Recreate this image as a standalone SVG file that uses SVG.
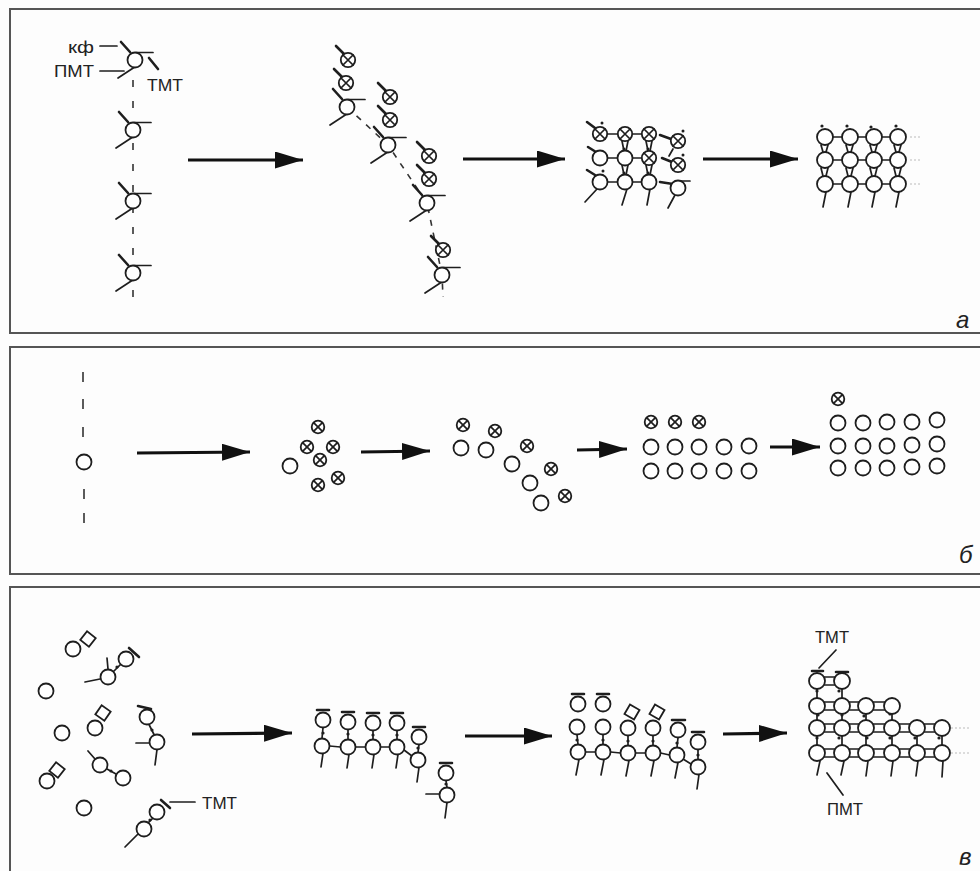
<svg xmlns="http://www.w3.org/2000/svg" width="980" height="871" viewBox="0 0 980 871">
<style>
.bg{fill:#fdfdfd}
.pn{fill:none;stroke:#555;stroke-width:2}
.c{fill:#fff;stroke:#1e1e1e;stroke-width:1.8}
.s{fill:none;stroke:#1e1e1e;stroke-width:1.7;stroke-linecap:round}
.k{fill:none;stroke:#1e1e1e;stroke-width:2.6;stroke-linecap:round}
.d{fill:none;stroke:#333;stroke-width:1.6}
.f{fill:none;stroke:#bbb;stroke-width:1;stroke-dasharray:2 2}
.sq{fill:#fff;stroke:#1e1e1e;stroke-width:1.8}
.dot{fill:#1e1e1e}
.ar{fill:none;stroke:#111;stroke-width:3.2;marker-end:url(#ah)}
.t{font-family:"Liberation Sans",Arial,sans-serif;font-size:16px;fill:#222}
.lab{font-family:"Liberation Sans",Arial,sans-serif;font-size:24px;font-style:italic;fill:#222}
</style>
<defs>
<marker id="ah" markerUnits="userSpaceOnUse" markerWidth="30" markerHeight="18" refX="28" refY="8.5" orient="auto">
<path d="M0,0 L28,8.5 L0,17 Z" fill="#111"/>
</marker>
<circle id="o" r="7.5" class="c"/>
<circle id="O" r="8" class="c"/>
<g id="x"><circle r="7.2" class="c"/><path d="M-5,-5 L5,5 M-5,5 L5,-5" class="s" stroke-width="1.4"/></g>
<g id="xs"><circle r="6.3" class="c"/><path d="M-4.4,-4.4 L4.4,4.4 M-4.4,4.4 L4.4,-4.4" class="s" stroke-width="1.4"/></g>
<g id="nd"><path d="M-14,-18 L-5,-8" class="k"/><path d="M1,-7.5 H18 M-1,7.5 L-17,18" class="s"/><circle r="7.5" class="c"/></g>
<g id="xk"><path d="M-12,-14 L-4,-6" class="k"/><use href="#x"/></g>
<rect id="sqr" x="-5.5" y="-5.5" width="11" height="11" class="sq"/>
</defs>

<rect class="bg" x="0" y="0" width="980" height="871"/>

<!-- frames -->
<g id="frames">
<rect class="pn" x="10" y="9" width="985" height="324"/>
<rect class="pn" x="10" y="347" width="985" height="227"/>
<rect class="pn" x="10" y="587" width="985" height="300"/>
</g>

<!-- transition arrows -->
<g id="connectors">
<line class="ar" x1="188" y1="160" x2="303" y2="160"/>
<line class="ar" x1="463" y1="159" x2="565" y2="159"/>
<line class="ar" x1="703" y1="159" x2="798" y2="159"/>
<line class="ar" x1="137" y1="453" x2="250" y2="452"/>
<line class="ar" x1="361" y1="452" x2="430" y2="451"/>
<line class="ar" x1="577" y1="450" x2="627" y2="449"/>
<line class="ar" x1="770" y1="447" x2="820" y2="447"/>
<line class="ar" x1="192" y1="734" x2="292" y2="733"/>
<line class="ar" x1="465" y1="736" x2="552" y2="736"/>
<line class="ar" x1="723" y1="734" x2="787" y2="733"/>
</g>

<!-- panel a, stage 1: single column -->
<g id="a-column">
<path d="M133,80 V302" class="d" stroke-dasharray="7 14"/>
<use href="#nd" x="135" y="60"/>
<use href="#nd" x="133" y="130"/>
<use href="#nd" x="133" y="201"/>
<use href="#nd" x="133" y="273"/>
<path d="M149,58 L158,69" class="k" stroke-width="2"/>
<path d="M100,46 H117 M100,71 H124" class="s" stroke-width="2"/>
<text class="t" x="68" y="53" textLength="26" lengthAdjust="spacingAndGlyphs">кф</text>
<text class="t" x="54" y="77" textLength="40" lengthAdjust="spacingAndGlyphs">ПМТ</text>
<text class="t" x="147" y="91" textLength="36" lengthAdjust="spacingAndGlyphs">ТМТ</text>
</g>

<!-- panel a, stage 2: nucleation on each node -->
<g id="a-nucleation">
<path d="M347,107 L388,145 L427,203 L442,275 L443,297" class="d" stroke-dasharray="6 7"/>
<use href="#nd" x="347" y="107"/>
<use href="#xk" x="348" y="60"/>
<use href="#xk" x="346" y="83"/>
<use href="#nd" x="388" y="145"/>
<use href="#xk" x="390" y="97"/>
<use href="#xk" x="390" y="120"/>
<use href="#nd" x="427" y="203"/>
<use href="#xk" x="429" y="156"/>
<use href="#xk" x="429" y="179"/>
<use href="#nd" x="442" y="275"/>
<use href="#xk" x="443" y="250"/>
</g>

<!-- panel a, stage 3: partial lattice -->
<g id="a-partial">
<path d="M607.5,134 H617.5 M632.5,134 H641.5 M607.5,158 H617.5 M632.5,158 H641.5 M607.5,182 H617.5 M632.5,182 H641.5" class="s"/>
<path d="M622,141 L624,151 M628,141 L626,151 M622,165 L624,175 M628,165 L626,175 M646,141 L648,151 M652,141 L650,151 M646,165 L648,175 M652,165 L650,175" class="s" stroke-width="1.3"/>
<circle class="dot" cx="624" cy="149" r="1.5"/><circle class="dot" cx="624" cy="173" r="1.5"/>
<circle class="dot" cx="648" cy="149" r="1.5"/><circle class="dot" cx="648" cy="173" r="1.5"/>
<path d="M587,122 L595,128 M588,147 L596,152 M587,170 L595,175 M660,135 L671,139 M662,158 L672,162 M660,182 L673,184" class="k"/>
<path d="M673,149 L669,156 M680,181 H690 M597,189 L585,202 M627,189 L622,205 M650,189 L647,205 M675,195 L668,208" class="s"/>
<circle class="dot" cx="602" cy="123" r="1.5"/><circle class="dot" cx="603" cy="171" r="1.5"/>
<circle class="dot" cx="683" cy="131" r="1.5"/><circle class="dot" cx="683" cy="155" r="1.5"/>
<use href="#x" x="600" y="134"/>
<use href="#x" x="625" y="134"/>
<use href="#x" x="649" y="134"/>
<use href="#x" x="678" y="141"/>
<use href="#o" x="600" y="158"/>
<use href="#o" x="625" y="158"/>
<use href="#x" x="649" y="158"/>
<use href="#x" x="678" y="165"/>
<use href="#o" x="600" y="182"/>
<use href="#o" x="625" y="182"/>
<use href="#o" x="649" y="182"/>
<use href="#o" x="678" y="188"/>
</g>

<!-- panel a, stage 4: complete lattice -->
<g id="a-lattice">
<path d="M833,137 H842 M858,137 H866 M882,137 H890 M833,160 H842 M858,160 H866 M882,160 H890 M833,184 H842 M858,184 H866 M882,184 H890" class="s"/>
<path d="M821,145 L823,152 M828,145 L826,152 M846,145 L848,152 M853,145 L851,152 M870,145 L872,152 M877,145 L875,152 M894,145 L896,152 M901,145 L899,152 M821,168 L823,176 M828,168 L826,176 M846,168 L848,176 M853,168 L851,176 M870,168 L872,176 M877,168 L875,176 M894,168 L896,176 M901,168 L899,176" class="s" stroke-width="1.2"/>
<path d="M826,192 L823,207 M851,192 L848,207 M875,192 L872,207 M899,192 L896,207" class="s"/>
<circle class="dot" cx="822" cy="126" r="1.6"/><circle class="dot" cx="847" cy="126" r="1.6"/>
<circle class="dot" cx="871" cy="127" r="1.6"/><circle class="dot" cx="896" cy="126" r="1.6"/>
<path d="M910,137 H922 M910,160 H922 M910,184 H922" class="f"/>
<use href="#O" x="825" y="137"/><use href="#O" x="850" y="137"/><use href="#O" x="874" y="137"/><use href="#O" x="898" y="137"/>
<use href="#O" x="825" y="160"/><use href="#O" x="850" y="160"/><use href="#O" x="874" y="160"/><use href="#O" x="898" y="160"/>
<use href="#O" x="825" y="184"/><use href="#O" x="850" y="184"/><use href="#O" x="874" y="184"/><use href="#O" x="898" y="184"/>
</g>
<text class="lab" x="956" y="328">а</text>

<!-- panel б -->
<g id="b-column">
<path d="M83,372 v10 M83,399 v10 M83,427 v10 M84,489 v10 M84,513 v10" class="d" stroke-width="1.5"/>
<use href="#o" x="84" y="462"/>
</g>
<g id="b-cluster">
<use href="#xs" x="318" y="427"/>
<use href="#xs" x="307" y="447"/>
<use href="#xs" x="333" y="447"/>
<use href="#xs" x="320" y="460"/>
<use href="#xs" x="338" y="478"/>
<use href="#xs" x="318" y="485"/>
<use href="#o" x="290" y="466"/>
</g>
<g id="b-row">
<use href="#xs" x="463" y="425"/>
<use href="#o" x="461" y="448"/>
<use href="#xs" x="495" y="431"/>
<use href="#o" x="486" y="450"/>
<use href="#xs" x="527" y="446"/>
<use href="#o" x="512" y="464"/>
<use href="#xs" x="551" y="469"/>
<use href="#o" x="530" y="483"/>
<use href="#xs" x="565" y="496"/>
<use href="#o" x="541" y="503"/>
</g>
<g id="b-block">
<use href="#xs" x="651" y="422"/><use href="#xs" x="675" y="422"/><use href="#xs" x="699" y="422"/>
<use href="#o" x="651" y="447"/><use href="#o" x="675" y="447"/><use href="#o" x="699" y="447"/><use href="#o" x="724" y="447"/><use href="#o" x="749" y="446"/>
<use href="#o" x="651" y="471"/><use href="#o" x="675" y="471"/><use href="#o" x="699" y="471"/><use href="#o" x="724" y="471"/><use href="#o" x="749" y="471"/>
</g>
<g id="b-final">
<use href="#xs" x="838" y="399"/>
<use href="#o" x="838" y="423"/><use href="#o" x="863" y="423"/><use href="#o" x="887" y="422"/><use href="#o" x="912" y="422"/><use href="#o" x="937" y="420"/>
<use href="#o" x="838" y="446"/><use href="#o" x="863" y="446"/><use href="#o" x="887" y="446"/><use href="#o" x="912" y="445"/><use href="#o" x="937" y="444"/>
<use href="#o" x="838" y="468"/><use href="#o" x="863" y="468"/><use href="#o" x="887" y="468"/><use href="#o" x="912" y="467"/><use href="#o" x="937" y="466"/>
</g>
<text class="lab" x="959" y="563">б</text>

<!-- panel в, stage 1: scattered units -->
<g id="v-pairs">
<use href="#sqr" transform="translate(88,639) rotate(38)"/>
<use href="#o" x="73" y="649"/>
<use href="#sqr" transform="translate(103,713) rotate(35)"/>
<use href="#o" x="95" y="728"/>
<use href="#sqr" transform="translate(57,770) rotate(38)"/>
<use href="#o" x="47" y="781"/>
<use href="#o" x="46" y="691"/>
<use href="#o" x="62" y="733"/>
<use href="#o" x="84" y="808"/>
</g>
<g id="v-chainA">
<path d="M85,682 L100,679 M107,658 L108,669 M113.5,671.5 L120.5,664.5" class="s"/>
<path d="M129,648 L139,657" class="k"/>
<circle class="dot" cx="117" cy="667" r="1.6"/>
<use href="#o" x="108" y="677"/>
<use href="#o" x="126" y="659"/>
</g>
<g id="v-chainB">
<path d="M138,706 L151,709" class="k"/>
<path d="M149,724.5 L154,734.5 M136,743 H149.5 M157,749.5 L155,765" class="s"/>
<circle class="dot" cx="152" cy="730" r="1.6"/>
<use href="#o" x="147" y="717"/>
<use href="#o" x="157" y="742"/>
</g>
<g id="v-chainC">
<path d="M88,751 L95,759 M107,769 L116,774" class="s"/>
<circle class="dot" cx="111" cy="771" r="1.6"/>
<use href="#o" x="100" y="765"/>
<use href="#o" x="123" y="778"/>
</g>
<g id="v-chainD">
<path d="M125,847 L138,834 M148,823 L153,818" class="s"/>
<path d="M161,800 L170,808" class="k"/>
<circle class="dot" cx="150" cy="820" r="1.6"/>
<use href="#o" x="144" y="829"/>
<use href="#o" x="157" y="812"/>
<path d="M170,802 H195" class="s" stroke-width="2"/>
<text class="t" x="202" y="809" textLength="35" lengthAdjust="spacingAndGlyphs">ТМТ</text>
</g>

<!-- panel в, stage 2: first row -->
<g id="v-row">
<path d="M317,710 H329 M342,712 H354 M367,713 H379 M391,713 H403 M413,727 H425 M440,763 H452" class="k"/>
<path d="M323,727.5 L322,738.5 M348,729.5 L348,739.5 M373,730.5 L373,739.5 M397,730.5 L397,739.5 M419,744.5 L418,752.5 M446,780.5 L447,787.5" class="s"/>
<circle class="dot" cx="323" cy="733" r="1.6"/><circle class="dot" cx="348" cy="734" r="1.6"/><circle class="dot" cx="373" cy="735" r="1.6"/><circle class="dot" cx="397" cy="735" r="1.6"/><circle class="dot" cx="418" cy="748" r="1.6"/><circle class="dot" cx="446" cy="784" r="1.6"/>
<path d="M329.5,746 L340.5,747 M355.5,747 L365.5,747 M380.5,747 L389.5,747 M404,750 L412,756" class="s"/>
<path d="M323,753.5 L321,767 M349,754.5 L347,768 M374,754.5 L372,768 M398,754.5 L396,768 M419,767.5 L417,782 M426,794 H439.5 M447,802.5 L445,818" class="s"/>
<use href="#o" x="323" y="720"/><use href="#o" x="348" y="722"/><use href="#o" x="373" y="723"/><use href="#o" x="397" y="723"/><use href="#o" x="419" y="737"/><use href="#o" x="446" y="773"/>
<use href="#o" x="322" y="746"/><use href="#o" x="348" y="747"/><use href="#o" x="373" y="747"/><use href="#o" x="397" y="747"/><use href="#o" x="418" y="760"/><use href="#o" x="447" y="795"/>
</g>

<!-- panel в, stage 3: second row -->
<g id="v-tworows">
<path d="M572,694 H584 M597,694 H609 M672,720 H685 M692,732 H704" class="k"/>
<use href="#sqr" transform="translate(632,712) rotate(30)"/>
<use href="#sqr" transform="translate(657,712) rotate(30)"/>
<path d="M577,734.5 L578,744.5 M603,734.5 L603,744.5 M628,735.5 L628,745.5 M653,735.5 L653,745.5 M678,737.5 L677,747.5 M698,749.5 L698,759.5" class="s"/>
<circle class="dot" cx="577" cy="740" r="1.6"/><circle class="dot" cx="603" cy="740" r="1.6"/><circle class="dot" cx="628" cy="741" r="1.6"/><circle class="dot" cx="653" cy="741" r="1.6"/><circle class="dot" cx="677" cy="743" r="1.6"/><circle class="dot" cx="698" cy="755" r="1.6"/>
<path d="M585.5,752 H595.5 M610.5,752 L620.5,753 M635.5,753 H645.5 M660.5,753 L669.5,755 M683,759 L691,764" class="s"/>
<path d="M579,759.5 L576,775 M604,759.5 L601,775 M629,760.5 L626,776 M654,760.5 L651,776 M678,762.5 L675,778 M699,774.5 L697,789" class="s"/>
<use href="#o" x="578" y="704"/><use href="#o" x="603" y="704"/>
<use href="#o" x="577" y="727"/><use href="#o" x="603" y="727"/><use href="#o" x="628" y="728"/><use href="#o" x="653" y="728"/><use href="#o" x="678" y="730"/><use href="#o" x="698" y="742"/>
<use href="#o" x="578" y="752"/><use href="#o" x="603" y="752"/><use href="#o" x="628" y="753"/><use href="#o" x="653" y="753"/><use href="#o" x="677" y="755"/><use href="#o" x="698" y="767"/>
</g>

<!-- panel в, stage 4: stacked lattice -->
<g id="v-lattice">
<path d="M812,671 H823 M836,672 H848" class="k" stroke-width="2"/>
<path d="M824,677 H835 M824,685 H835" class="s"/>
<path d="M824,702 H835 M824,710 H835 M849,702 H859 M849,710 H859 M873,702 H885 M873,710 H885" class="s"/>
<path d="M824,724 H835 M824,732 H835 M849,724 H859 M849,732 H859 M873,724 H885 M873,732 H885 M899,724 H910 M899,732 H910 M924,724 H935 M924,732 H935" class="s"/>
<path d="M824,749 H835 M824,757 H835 M849,749 H859 M849,757 H859 M873,749 H885 M873,757 H885 M899,749 H910 M899,757 H910 M924,749 H935 M924,757 H935" class="s"/>
<path d="M817,689 V698 M842,689 V698 M817,714 V720 M842,714 V720 M866,714 V720 M892,714 V720 M817,736 V745 M842,736 V745 M866,736 V745 M892,736 V745 M917,736 V745 M942,736 V745" class="s" stroke-width="1"/>
<g class="dot">
<circle cx="817" cy="691" r="1.6"/><circle cx="839" cy="691" r="1.6"/>
<circle cx="818" cy="715" r="1.6"/><circle cx="842" cy="715" r="1.6"/><circle cx="864" cy="716" r="1.6"/><circle cx="890" cy="714" r="1.6"/>
<circle cx="817" cy="738" r="1.6"/><circle cx="839" cy="738" r="1.6"/><circle cx="867" cy="738" r="1.6"/><circle cx="890" cy="738" r="1.6"/><circle cx="915" cy="738" r="1.6"/><circle cx="939" cy="738" r="1.6"/>
</g>
<path d="M820,761 L817,775 M844,761 L841,775 M868,761 L866,776 M893,761 L891,776 M918,761 L916,776 M943,761 L942,777" class="s"/>
<path d="M951,728 H969 M951,753 H969" class="f"/>
<use href="#O" x="817" y="681"/><use href="#O" x="842" y="681"/>
<use href="#O" x="817" y="706"/><use href="#O" x="842" y="706"/><use href="#O" x="866" y="706"/><use href="#O" x="892" y="706"/>
<use href="#O" x="817" y="728"/><use href="#O" x="842" y="728"/><use href="#O" x="866" y="728"/><use href="#O" x="892" y="728"/><use href="#O" x="917" y="728"/><use href="#O" x="942" y="728"/>
<use href="#O" x="817" y="753"/><use href="#O" x="842" y="753"/><use href="#O" x="866" y="753"/><use href="#O" x="892" y="753"/><use href="#O" x="917" y="753"/><use href="#O" x="942" y="753"/>
<path d="M836,650 L819,668 M827,773 L843,795" class="s" stroke-width="2"/>
<text class="t" x="815" y="643" textLength="34" lengthAdjust="spacingAndGlyphs">ТМТ</text>
<text class="t" x="827" y="815" textLength="36" lengthAdjust="spacingAndGlyphs">ПМТ</text>
</g>
<text class="lab" x="959" y="865">в</text>
</svg>
